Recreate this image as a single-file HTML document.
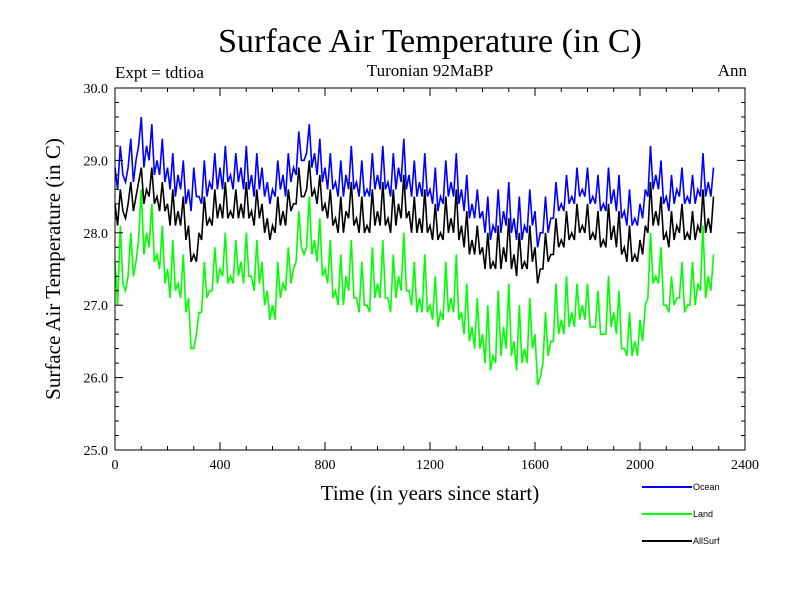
<!DOCTYPE html>
<html><head><meta charset="utf-8"><style>
body{margin:0;background:#fff}
svg text{font-family:"Liberation Serif",serif;fill:#000}
</style></head><body>
<svg id="chart" width="800" height="600" viewBox="0 0 800 600">
<rect width="800" height="600" fill="#fff"/>
<text x="430" y="52" font-size="34" text-anchor="middle">Surface Air Temperature (in C)</text>
<text x="115" y="78" font-size="17">Expt = tdtioa</text>
<text x="430" y="76" font-size="17" text-anchor="middle">Turonian  92MaBP</text>
<text x="747" y="76" font-size="17" text-anchor="end">Ann</text>
<text x="430" y="500" font-size="21" text-anchor="middle">Time (in years since start)</text>
<text transform="translate(60,269) rotate(-90)" font-size="21" text-anchor="middle">Surface Air Temperature (in C)</text>
<g id="plot"></g>
<g id="axes"></g>
<g id="legend"></g>
</svg>
<script>
const seriesNames=["Ocean","Land","AllSurf"];
const seriesColors=["#0000ff","#00ff00","#000000"];
const yearStep=20;
const xTicks=[0,400,800,1200,1600,2000,2400];
const yTicks=[25.0,26.0,27.0,28.0,29.0,30.0];
// values at years 0,20,40,...
const ocean=[28.9,29.2,28.7,29.3,29.0,29.6,29.2,29.5,29.0,29.3,
28.9,29.1,28.8,29.0,28.6,28.9,28.5,29.0,28.7,29.1,
28.9,29.2,28.8,29.1,28.9,29.2,28.8,29.1,28.9,28.7,
28.6,29.0,28.8,29.1,28.9,29.4,29.0,29.5,29.1,29.3,
28.9,29.1,28.7,29.0,28.8,29.2,28.7,29.0,28.6,29.1,
28.8,29.2,28.7,29.1,28.9,29.3,28.8,29.0,28.7,29.1,
28.6,28.9,28.5,29.0,28.7,29.1,28.6,28.8,28.4,28.6,
28.3,28.5,28.1,28.6,28.3,28.7,28.2,28.5,28.1,28.6,
28.3,28.0,28.5,28.2,28.7,28.4,28.8,28.5,28.9,28.6,
28.9,28.5,28.8,28.4,28.9,28.6,28.8,28.3,28.6,28.2,
28.4,28.6,29.2,28.8,29.0,28.5,28.8,28.6,28.9,28.5,
28.8,28.6,29.1,28.7,28.9];
// values at years 10,30,50,...
const oceanMid=[28.6,28.8,28.9,28.7,29.2,28.9,29.0,28.8,28.8,28.7,
28.6,28.5,28.6,28.4,28.3,28.5,28.4,28.5,28.6,28.6,
28.6,28.7,28.6,28.7,28.6,28.6,28.5,28.6,28.5,28.4,
28.5,28.6,28.5,28.7,28.8,29.0,29.1,28.9,28.8,28.7,
28.6,28.6,28.5,28.5,28.6,28.6,28.5,28.5,28.5,28.6,
28.6,28.6,28.5,28.6,28.7,28.6,28.5,28.5,28.5,28.5,
28.4,28.3,28.4,28.5,28.5,28.4,28.3,28.2,28.2,28.2,
28.0,27.9,28.0,28.0,28.1,28.0,27.9,27.9,28.0,28.1,
27.8,28.0,28.0,28.2,28.3,28.3,28.4,28.4,28.5,28.5,
28.4,28.4,28.3,28.3,28.4,28.3,28.2,28.1,28.1,28.1,
28.2,28.5,28.6,28.6,28.4,28.3,28.4,28.5,28.4,28.4,
28.4,28.5,28.5,28.5];
const land=[27.6,28.1,27.2,28.0,27.6,28.6,28.0,28.4,27.7,28.1,
27.5,27.9,27.3,27.7,27.1,26.4,26.9,27.6,27.2,27.8,
27.5,28.0,27.4,27.9,27.6,28.0,27.4,27.9,27.6,27.2,
27.0,27.6,27.3,27.8,27.5,28.3,27.7,28.5,27.9,28.2,
27.5,27.9,27.2,27.7,27.4,27.9,27.1,27.6,27.0,27.8,
27.3,27.9,27.1,27.7,27.4,28.0,27.2,27.6,27.1,27.7,
27.0,27.4,26.9,27.6,27.1,27.7,26.9,27.3,26.7,27.1,
26.6,27.0,26.3,27.2,26.7,27.3,26.5,27.0,26.4,27.1,
26.6,26.0,26.9,26.5,27.3,26.8,27.4,26.9,27.3,27.0,
27.3,26.7,27.2,26.6,27.4,26.9,27.2,26.4,26.9,26.5,
26.8,27.0,28.0,27.4,27.8,27.0,27.4,27.1,27.6,27.0,
27.6,27.3,28.1,27.4,27.7];
const landMid=[27.0,27.3,27.4,27.4,27.9,27.7,27.8,27.6,27.5,27.3,
27.1,27.2,27.1,26.9,26.4,26.6,26.9,27.1,27.2,27.3,
27.4,27.3,27.3,27.4,27.3,27.4,27.2,27.3,27.0,26.8,
26.8,27.1,27.2,27.3,27.6,27.8,27.8,27.7,27.6,27.4,
27.3,27.1,27.0,27.0,27.2,27.1,26.9,27.0,26.9,27.1,
27.1,27.1,26.9,27.1,27.2,27.2,27.0,26.9,26.9,26.9,
26.8,26.7,26.8,26.9,26.9,26.8,26.6,26.5,26.4,26.4,
26.2,26.1,26.2,26.3,26.4,26.3,26.1,26.2,26.2,26.4,
25.9,26.2,26.3,26.5,26.6,26.6,26.7,26.7,26.8,26.8,
26.7,26.7,26.6,26.6,26.7,26.6,26.4,26.3,26.3,26.3,
26.5,27.1,27.3,27.3,27.0,26.9,27.0,27.1,26.9,27.0,
27.0,27.2,27.1,27.2];
const allSurf=[28.4,28.6,28.2,28.7,28.5,28.9,28.6,28.9,28.5,28.7,
28.4,28.6,28.3,28.5,28.1,27.7,28.0,28.5,28.2,28.6,
28.4,28.7,28.3,28.6,28.4,28.7,28.3,28.6,28.4,28.2,
28.1,28.5,28.3,28.6,28.4,28.9,28.5,29.0,28.6,28.8,
28.4,28.6,28.2,28.5,28.3,28.7,28.2,28.5,28.1,28.6,
28.3,28.7,28.2,28.6,28.4,28.8,28.3,28.5,28.2,28.6,
28.1,28.4,28.0,28.5,28.2,28.6,28.1,28.3,27.9,28.1,
27.8,28.0,27.6,28.1,27.8,28.2,27.7,28.0,27.6,28.1,
27.8,27.5,28.0,27.7,28.2,27.9,28.3,28.0,28.4,28.1,
28.4,28.0,28.3,27.9,28.4,28.1,28.3,27.8,28.1,27.7,
27.9,28.1,28.7,28.3,28.5,28.0,28.3,28.1,28.4,28.0,
28.3,28.1,28.6,28.2,28.5];
const allSurfMid=[28.1,28.3,28.4,28.3,28.7,28.4,28.5,28.4,28.3,28.3,
28.1,28.1,28.1,27.9,27.6,27.6,27.9,28.1,28.1,28.2,
28.2,28.2,28.2,28.2,28.2,28.2,28.1,28.2,28.0,27.9,
28.0,28.1,28.1,28.3,28.4,28.5,28.6,28.5,28.4,28.3,
28.2,28.1,28.0,28.0,28.2,28.1,28.0,28.0,28.0,28.1,
28.1,28.1,28.0,28.1,28.2,28.2,28.0,28.0,28.0,28.0,
27.9,27.9,27.9,28.0,28.0,27.9,27.8,27.7,27.7,27.7,
27.5,27.5,27.5,27.5,27.6,27.5,27.4,27.5,27.5,27.6,
27.3,27.5,27.6,27.7,27.8,27.8,27.9,27.9,28.0,28.0,
27.9,27.9,27.8,27.8,27.9,27.8,27.7,27.6,27.6,27.6,
27.7,28.0,28.1,28.1,27.9,27.8,27.9,28.0,27.9,27.9,
27.9,28.0,28.0,28.0];

const NS="http://www.w3.org/2000/svg";
const L=115,R=745,T=88,B=450;
const xMin=0,xMax=2400,yMin=25,yMax=30;
function xs(v){return L+(v-xMin)/(xMax-xMin)*(R-L);}
function ys(v){return B-(v-yMin)/(yMax-yMin)*(B-T);}
function mk(tag,attrs,parent){const e=document.createElementNS(NS,tag);for(const k in attrs)e.setAttribute(k,attrs[k]);parent.appendChild(e);return e;}

const plot=document.getElementById('plot');
const data=[[ocean,oceanMid],[land,landMid],[allSurf,allSurfMid]];
const lineNames=['ocean-line','land-line','allsurf-line'];
data.forEach((pair,si)=>{
  const main=pair[0],mid=pair[1];
  const pts=[];
  main.forEach((v,i)=>{
    pts.push(xs(i*yearStep).toFixed(1)+','+ys(v).toFixed(1));
    if(i<mid.length) pts.push(xs(i*yearStep+yearStep/2).toFixed(1)+','+ys(mid[i]).toFixed(1));
  });
  const pl=mk('polyline',{points:pts.join(' '),fill:'none',stroke:seriesColors[si],'stroke-width':1.6,'stroke-linejoin':'miter'},plot);
  
  
});

const axes=document.getElementById('axes');
const frame=mk('rect',{x:L,y:T,width:R-L,height:B-T,fill:'none',stroke:'#000','stroke-width':1},axes);


for(let v=0;v<=2400;v+=100){
  const big=v%400===0, len=big?8:4, x=xs(v);
  mk('line',{x1:x,y1:B,x2:x,y2:B-len,stroke:'#000'},axes);
  mk('line',{x1:x,y1:T,x2:x,y2:T+len,stroke:'#000'},axes);
}
xTicks.forEach(v=>{
  const t=mk('text',{x:xs(v),y:B+19,'font-size':14,'text-anchor':'middle'},axes);
  t.textContent=v;
  
  
});
for(let k=0;k<=25;k++){
  const v=25+k*0.2, big=k%5===0, len=big?8:4, y=ys(v);
  mk('line',{x1:L,y1:y,x2:L+len,y2:y,stroke:'#000'},axes);
  mk('line',{x1:R,y1:y,x2:R-len,y2:y,stroke:'#000'},axes);
}
yTicks.forEach(v=>{
  const t=mk('text',{x:L-7,y:ys(v)+5,'font-size':14,'text-anchor':'end'},axes);
  t.textContent=v.toFixed(1);
  
  
});

const leg=document.getElementById('legend');
const legY=[487,514,541];
seriesNames.forEach((n,i)=>{
  const g=mk('g',{},leg);
  
  
  mk('line',{x1:642,y1:legY[i],x2:692,y2:legY[i],stroke:seriesColors[i],'stroke-width':2},g);
  const t=mk('text',{x:693,y:legY[i]+3,'font-size':9,style:'font-family:"Liberation Sans",sans-serif'},g);
  t.textContent=n;
});
</script>
</body></html>
